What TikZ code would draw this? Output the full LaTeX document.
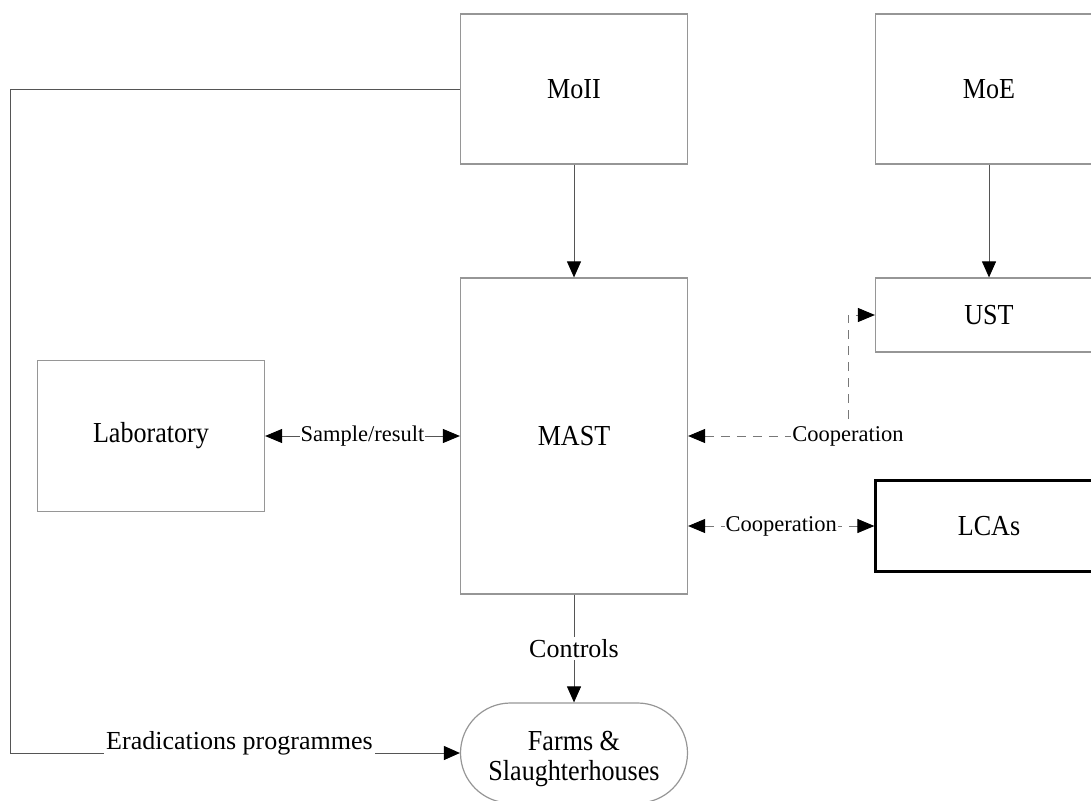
\documentclass[tikz,border=0pt]{standalone}
\usepackage{fontspec}
\setmainfont{Liberation Serif}
\newfontfamily\boxfont[FakeStretch=0.9]{Liberation Serif}
\usepackage{tikz}
\usetikzlibrary{arrows.meta}
\definecolor{boxgray}{RGB}{150,150,150}
\definecolor{linegray}{RGB}{85,85,85}
\definecolor{dashgray}{RGB}{120,120,120}

\begin{document}
\begin{tikzpicture}[x=1pt, y=-1pt]
    \tikzset{box/.style = {draw=boxgray, line width=1.2pt, minimum width=227pt, inner sep=0pt, align=center, font=\boxfont\fontsize{29}{30}\selectfont}}
    \tikzset{smalledge/.style = {draw=linegray, line width=0.9pt, -{Triangle[length=16pt, width=14pt, color=black]}}}
    \tikzset{twoway/.style = {draw=linegray, line width=0.9pt, {Triangle[length=17pt, width=14pt, color=black]}-{Triangle[length=17pt, width=14pt, color=black]}}}
    \tikzset{coop/.style = {draw=dashgray, dash pattern=on 9pt off 7pt}}
    \tikzset{lbl/.style = {fill=white, inner sep=1pt, font=\fontsize{22.5}{26}\selectfont}}
    \tikzset{biglbl/.style = {fill=white, inner sep=2pt, font=\fontsize{26}{29}\selectfont}}

    \useasboundingbox (0,0) rectangle (1091,800);
    \clip (0,0) rectangle (1091,800);

    \node[box, minimum height=150pt] (moii) at (574,89) {MoII};
    \node[box, minimum height=150pt] (moe) at (989,89) {MoE};
    \node[box, minimum height=316pt] (mast) at (574,436) {MAST};
    \node[box, minimum height=74pt] (ust) at (989,315) {UST};
    \node[box, minimum height=151pt] (lab) at (151,436) {Laboratory};
    \node[box, minimum height=91pt, draw=black, line width=2.2pt] (lcas) at (989,526) {LCAs};
    \node[box, minimum height=100pt, rounded corners=50pt] (farms) at (574,753) {\rule{0pt}{32pt}Farms \&\\Slaughterhouses};

    \coordinate (ubend) at (848,436);
    \coordinate (lbend) at (10,753);

    % arrows
    \draw[smalledge] (moii) -- (mast);
    \draw[smalledge] (moe) -- (ust);
    \draw[smalledge] (mast) -- node[biglbl]{Controls} (farms);
    \draw[smalledge] (moii.west) -| (lbend) -- node[biglbl, pos=0.51, yshift=10pt]{Eradications programmes} (farms.west);

    \draw[twoway] (lab) -- node[lbl]{Sample/result} (mast);
    \draw[twoway, coop] (mast.east) -- (ubend) node[lbl]{Cooperation} |- (ust.west);
    \draw[twoway, coop] (mast.east |- lcas.west) -- node[lbl]{Cooperation} (lcas.west);

\end{tikzpicture}
\end{document}
